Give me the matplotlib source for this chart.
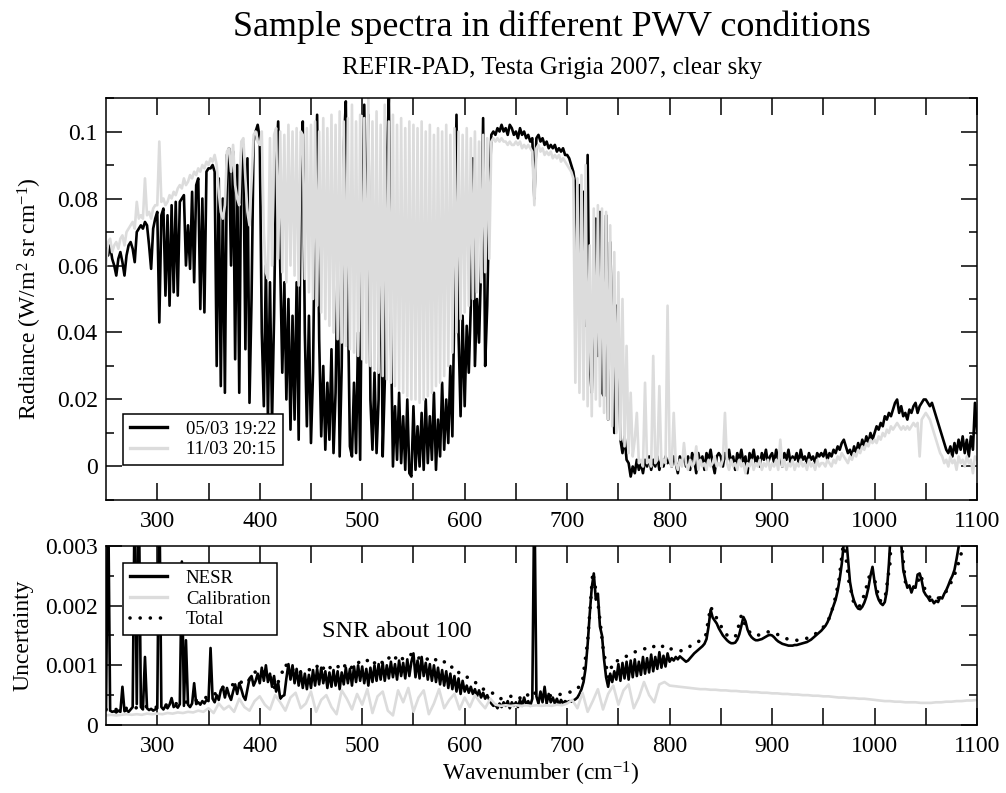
import numpy as np
import matplotlib
matplotlib.use("Agg")
import matplotlib.pyplot as plt
from matplotlib.ticker import MultipleLocator

plt.rcParams['font.family'] = ['Liberation Serif', 'DejaVu Serif']
plt.rcParams['mathtext.fontset'] = 'custom'
plt.rcParams['mathtext.rm'] = 'Liberation Serif'
plt.rcParams['mathtext.it'] = 'Liberation Serif:italic'

# spectra sampled every 2 cm-1, 250 .. 1100 cm-1
# radiance in 1e-3 W/(m2 sr cm-1), one row = 50 cm-1
rad_0503 = [
    65, 63, 66, 62, 60, 57, 62, 64, 61, 57, 63, 66, 67, 65, 61, 70, 71, 72, 71, 73, 72, 66, 59, 71, 74,
    76, 43, 75, 77, 51, 75, 48, 78, 52, 79, 51, 79, 80, 81, 60, 72, 59, 82, 55, 84, 86, 47, 80, 46, 88,
    89, 89, 90, 88, 30, 86, 24, 80, 22, 93, 95, 60, 94, 32, 90, 22, 94, 96, 35, 92, 19, 50, 97, 100, 102,
    98, 40, 18, 60, 14, 55, 13, 45, 90, 103, 60, 28, 55, 20, 50, 11, 45, 14, 55, 8, 85, 103, 40, 12, 45,
    7, 28, 80, 105, 38, 9, 30, 5, 25, 8, 35, 4, 22, 60, 3, 30, 95, 109, 50, 6, 3, 25, 4, 40, 2,
    70, 108, 60, 105, 20, 5, 28, 4, 20, 81, 3, 25, 90, 110, 40, 0, 18, 2, 22, 1, 15, -1, 20, -2, -3,
    18, -1, 12, 0, 16, -1, 20, 1, 15, 2, 22, -1, 14, 3, 25, 5, 20, 7, 30, 9, 50, 105, 40, 15, 45,
    18, 42, 28, 48, 92, 30, 50, 37, 60, 104, 30, 48, 80, 99, 100, 99, 101, 100, 102, 100, 101, 99, 102, 101, 99,
    100, 98, 101, 99, 100, 98, 99, 97, 98, 80, 98, 99, 97, 98, 96, 97, 95, 96, 95, 96, 94, 95, 94, 95, 93,
    93, 92, 90, 88, 84, 60, 84, 45, 82, 42, 93, 30, 22, 50, 74, 33, 76, 22, 21, 75, 14, 67, 40, 10, 48,
    44, 8, 4, 9, 2, 1, -3, 0, -2, 2, -1, 1, -2, 2, 0, 3, -1, 2, 0, 3, -1, 2, 0, 3, 1,
    2, 0, 3, 1, -2, 3, 1, 4, 0, 3, -1, 4, 2, -2, 4, 1, 3, -1, 4, 2, 5, 1, -2, 3, 4,
    3, 0, 4, 2, 5, 1, 3, -1, 4, 2, 5, 1, 3, -2, 4, 2, 5, 1, 3, 0, 4, 2, 5, 1, 3,
    4, 1, 5, 2, 3, 0, 4, 2, 5, 1, 3, 2, 4, 1, 5, 2, 3, 1, 4, 2, 3, 1, 4, 3, 4,
    3, 5, 2, 4, 3, 5, 4, 6, 5, 7, 8, 6, 4, 5, 3, 6, 4, 7, 5, 8, 6, 9, 7, 10, 8,
    10, 12, 11, 13, 12, 15, 14, 16, 15, 17, 19, 20, 16, 18, 15, 16, 14, 17, 16, 18, 19, 16, 18, 19, 20,
    20, 19, 18, 19, 17, 15, 13, 11, 9, 7, 5, 4, 6, 3, 7, 4, 8, 5, 9, 4, 8, 3, 9, 5, 19, 10,
]
rad_1103 = [
    60, 67, 68, 64, 66, 67, 65, 68, 69, 66, 70, 71, 72, 73, 71, 79, 74, 75, 74, 86, 75, 76, 74, 77, 78,
    78, 97, 79, 80, 78, 79, 81, 80, 82, 81, 83, 84, 83, 86, 84, 85, 87, 86, 88, 87, 89, 88, 90, 89, 91,
    90, 92, 91, 93, 90, 82, 76, 74, 78, 94, 95, 88, 96, 84, 80, 78, 97, 98, 86, 76, 72, 85, 99, 100, 97,
    96, 100, 70, 58, 56, 98, 60, 99, 101, 62, 100, 58, 99, 55, 102, 60, 100, 57, 101, 54, 100, 99, 56, 101, 52,
    102, 50, 103, 48, 100, 46, 104, 44, 101, 42, 105, 40, 102, 38, 106, 37, 103, 36, 104, 35, 108, 34, 103, 33, 105,
    32, 104, 31, 110, 30, 103, 29, 106, 28, 102, 27, 108, 26, 103, 25, 105, 24, 102, 23, 104, 22, 101, 21, 103, 20,
    102, 20, 101, 19, 103, 20, 100, 21, 102, 22, 99, 24, 101, 25, 100, 27, 102, 30, 99, 34, 101, 40, 100, 44, 99,
    46, 101, 48, 98, 50, 100, 52, 97, 55, 99, 58, 98, 62, 97, 98, 97, 98, 97, 98, 97, 97, 96, 97, 96, 96,
    97, 96, 97, 95, 96, 95, 96, 95, 94, 78, 95, 96, 94, 95, 93, 94, 93, 94, 92, 93, 92, 93, 91, 92, 91,
    90, 89, 88, 86, 25, 86, 22, 87, 20, 90, 18, 66, 15, 77, 20, 78, 18, 77, 16, 76, 14, 72, 12, 64, 10,
    58, 8, 50, 6, 36, 4, 22, 3, 8, 16, 1, 2, 0, 25, 1, 2, 0, 33, 1, 2, 24, 0, 2, 1, 48,
    2, 0, 16, 1, -1, 2, 0, 7, 1, -1, 2, 0, 1, 6, -1, 2, 0, 1, -1, 2, 0, 1, 3, 0, 1,
    0, 2, 16, 1, -1, 2, 0, 1, -1, 2, 0, 1, -2, 1, 0, 2, -1, 1, 0, 2, -1, 1, 0, 2, -1,
    1, 0, 2, -1, 8, 0, 2, -1, 1, 0, 2, -1, 1, 0, 2, 0, 1, -1, 2, 0, 1, -1, 2, 0, 1,
    1, 0, 2, 1, 0, 2, 1, 3, 2, 4, 3, 2, 1, 3, 2, 4, 3, 5, 4, 6, 5, 7, 6, 8, 7,
    8, 7, 9, 8, 10, 9, 11, 10, 12, 11, 12, 13, 12, 11, 12, 11, 12, 11, 12, 13, 12, 13, 3, 14, 15,
    16, 15, 14, 12, 10, 8, 6, 4, 3, 1, 2, 0, 3, 1, 2, -1, 3, 1, 2, 0, 3, 1, 2, -2, 3, 2,
]

# uncertainties in 1e-4 W/(m2 sr cm-1)
nesr = [
    2.5, 40, 2.4, 2.2, 2.3, 2.1, 2.4, 2.2, 6.4, 2.3, 2.5, 2.2, 2.6, 3.0, 40, 3.5, 40, 3.0, 2.6, 11.4, 2.8, 2.5, 2.7, 2.4, 2.6,
    2.8, 40, 3.0, 2.6, 3.2, 2.8, 3.4, 4.5, 3.0, 3.3, 2.9, 3.5, 27.4, 3.2, 14.2, 3.4, 3.0, 3.6, 7.0, 3.5, 3.8, 3.4, 4.0, 3.6, 4.2,
    4.0, 12.9, 4.4, 3.8, 5.0, 4.2, 5.8, 6.4, 4.6, 6.2, 5.0, 4.2, 5.6, 6.8, 5.2, 7.0, 6.0, 4.8, 4.2, 6.0, 7.8, 8.2, 6.6, 7.4, 8.6,
    7.0, 9.6, 7.4, 10.0, 7.2, 8.6, 6.4, 8.2, 5.6, 7.0, 4.4, 4.8, 5.0, 7.8, 10.2, 7.6, 10.0, 7.0, 9.4, 6.6, 9.0, 6.2, 8.6, 6.0, 8.4,
    6.2, 9.2, 6.6, 9.4, 6.8, 9.6, 7.0, 9.0, 6.2, 8.8, 6.4, 9.2, 6.6, 9.0, 6.0, 8.8, 6.8, 9.6, 7.0, 9.4, 6.6, 9.8, 7.2, 10.0, 7.4,
    9.8, 7.0, 9.4, 6.6, 9.6, 7.2, 10.0, 7.4, 10.2, 7.6, 10.4, 7.4, 10.0, 7.8, 10.6, 8.0, 10.2, 7.6, 10.8, 8.2, 10.4, 7.8, 11.0, 8.2, 10.6,
    12.0, 8.0, 10.8, 7.8, 11.4, 8.2, 10.4, 7.6, 10.2, 7.4, 10.0, 7.2, 9.6, 6.8, 9.2, 6.6, 9.0, 6.2, 8.6, 6.0, 8.2, 5.6, 7.8, 5.2, 7.4,
    5.6, 6.6, 5.4, 6.4, 5.2, 6.0, 4.8, 5.8, 4.6, 5.4, 4.4, 5.0, 4.2, 3.6, 3.2, 3.4, 2.8, 3.6, 3.0, 3.8, 3.2, 4.0, 2.8, 3.8, 3.2,
    3.8, 3.0, 4.2, 3.2, 4.6, 3.4, 4.0, 3.2, 4.4, 40, 4.8, 3.6, 5.6, 3.8, 6.4, 3.6, 5.2, 3.8, 4.6, 3.6, 4.4, 3.4, 4.2, 3.6, 4.0,
    3.8, 4.0, 3.9, 4.1, 4.3, 4.6, 5.2, 6.0, 7.2, 9.5, 13.5, 18.5, 23.0, 25.4, 21.0, 22.0, 16.5, 15.0, 11.0, 8.0, 6.4, 8.6, 7.2, 9.0, 7.6,
    10.2, 7.4, 10.4, 7.8, 10.6, 7.6, 10.8, 8.0, 11.0, 8.2, 10.6, 8.4, 11.4, 8.6, 11.2, 8.8, 11.8, 9.0, 11.4, 9.4, 12.2, 9.6, 11.6, 9.8, 12.0,
    10.6, 11.2, 10.8, 11.4, 11.0, 11.5, 11.2, 10.9, 10.6, 10.8, 11.2, 11.6, 12.0, 12.3, 12.6, 12.9, 13.2, 13.6, 14.4, 16.5, 19.3, 18.0, 17.5, 17.0, 16.2,
    15.6, 15.0, 14.6, 14.2, 13.9, 13.7, 13.7, 13.8, 14.3, 15.2, 16.6, 18.1, 17.4, 16.0, 15.2, 14.7, 14.4, 14.2, 14.2, 14.3, 14.4, 14.6, 14.8, 15.0, 15.1,
    15.0, 14.7, 14.3, 14.0, 13.8, 13.6, 13.5, 13.4, 13.3, 13.3, 13.3, 13.4, 13.4, 13.5, 13.6, 13.7, 13.8, 13.9, 14.1, 14.3, 14.6, 14.9, 15.2, 15.5, 15.8,
    16.2, 16.6, 17.2, 18.0, 19.0, 20.0, 21.0, 22.5, 24.5, 27.0, 30.5, 32.0, 28.0, 24.0, 22.0, 20.8, 20.0, 19.5, 19.4, 19.8, 20.5, 21.5, 23.0, 25.0, 26.5,
    24.0, 22.0, 21.0, 20.4, 20.1, 20.6, 22.5, 27.0, 33.0, 40.0, 45.0, 40.0, 34.0, 30.5, 26.0, 24.4, 23.0, 23.4, 22.2, 23.2, 23.0, 25.2, 25.4, 24.2, 22.4,
    21.8, 21.4, 20.8, 21.0, 20.4, 20.8, 20.6, 21.4, 21.2, 22.0, 22.6, 23.4, 24.3, 25.0, 26.0, 27.8, 29.8, 32.0, 34.0, 36.0, 38.0, 40.0, 42.0, 44.0, 46.0, 48.0,
]

# calibration and total uncertainty, every 5 cm-1, one row = 50 cm-1
calib = [
    1.6, 1.7, 1.6, 1.7, 1.8, 1.7, 1.8, 1.7, 1.9, 1.8,
    1.9, 1.8, 2.0, 1.9, 2.1, 2.0, 2.2, 2.1, 2.4, 2.2,
    2.8, 2.0, 3.6, 2.6, 3.2, 2.2, 4.4, 3.0, 2.4, 4.0,
    4.8, 3.4, 2.6, 5.0, 3.8, 2.4, 4.6, 5.4, 2.8, 3.6,
    5.6, 2.2, 4.2, 5.0, 3.0, 1.8, 5.8, 4.4, 2.6, 5.2,
    3.4, 6.0, 2.0, 4.8, 5.6, 2.4, 1.6, 5.8, 3.8, 6.2,
    2.2, 4.6, 5.8, 1.8, 3.6, 6.0, 2.8, 4.2, 5.2, 2.6,
    4.6, 3.0, 5.0, 3.8, 2.8, 4.4, 3.4, 3.2, 3.3, 3.2,
    3.3, 3.2, 3.3, 3.2, 3.3, 3.2, 3.3, 3.2, 3.4, 3.3,
    3.6, 4.2, 2.8, 5.4, 2.2, 4.0, 6.0, 2.6, 5.2, 6.6,
    3.4, 5.8, 6.8, 2.8, 4.6, 7.2, 5.0, 3.8, 6.8, 7.2,
    6.6, 6.5, 6.4, 6.3, 6.2, 6.1, 6.0, 6.0, 5.9, 5.9,
    5.8, 5.8, 5.7, 5.7, 5.6, 5.6, 5.5, 5.5, 5.4, 5.4,
    5.3, 5.3, 5.2, 5.2, 5.1, 5.1, 5.0, 5.0, 4.9, 4.9,
    4.8, 4.8, 4.7, 4.6, 4.6, 4.5, 4.5, 4.4, 4.4, 4.3,
    4.2, 4.1, 4.0, 4.0, 3.9, 3.9, 3.8, 3.8, 3.8, 3.7,
    3.7, 3.7, 3.8, 3.8, 3.9, 3.9, 4.0, 4.0, 4.1, 4.1,
    4.2,
]
total = [
    2.6, 2.5, 2.6, 2.7, 2.8, 2.7, 2.9, 3.0, 3.1, 2.9,
    3.0, 3.2, 3.4, 3.5, 3.6, 3.7, 3.9, 4.0, 4.2, 4.4,
    4.8, 5.0, 5.8, 6.4, 6.6, 6.8, 7.4, 6.8, 7.6, 8.8,
    9.4, 8.6, 8.2, 6.0, 8.0, 10.2, 9.0, 9.6, 8.8, 9.4,
    9.2, 10.0, 9.0, 10.2, 9.4, 10.0, 9.2, 10.4, 9.6, 10.6,
    10.2, 10.8, 10.0, 11.0, 10.4, 11.4, 10.6, 11.8, 11.0, 11.6,
    12.0, 11.2, 11.6, 10.8, 11.2, 10.4, 10.6, 9.6, 9.8, 8.6,
    8.4, 7.6, 7.2, 6.4, 5.8, 5.6, 5.0, 4.4, 4.6, 4.8,
    5.0, 4.4, 5.2, 4.6, 5.6, 4.6, 5.2, 4.8, 5.0, 5.2,
    5.4, 5.6, 6.0, 7.4, 14.0, 25.6, 20.6, 13.0, 8.0, 10.6,
    10.8, 11.4, 11.6, 12.2, 12.4, 12.8, 12.6, 13.2, 12.8, 13.4,
    12.8, 12.6, 12.4, 12.6, 13.2, 13.6, 14.2, 14.8, 19.8, 18.2,
    16.6, 15.2, 14.6, 15.0, 18.4, 16.2, 15.2, 15.0, 15.2, 15.6,
    15.6, 15.2, 14.8, 14.4, 14.2, 14.2, 14.3, 14.6, 15.0, 15.6,
    16.4, 17.6, 20.0, 24.0, 31.0, 24.0, 20.2, 19.8, 21.8, 25.0,
    24.4, 20.8, 21.0, 27.0, 45.0, 33.0, 24.0, 23.2, 23.0, 25.2,
    22.2, 21.2, 21.0, 21.6, 22.4, 24.0, 26.0, 29.0, 34.0, 40.0,
    46.0,
]

wn_fine = np.arange(250, 1101, 2)
wn_coarse = np.arange(250, 1101, 5)

gray = '#dcdcdc'
fig = plt.figure(figsize=(10.06, 7.93), dpi=100)
ax1 = fig.add_axes([0.1054, 0.3695, 0.8658, 0.5069])
ax2 = fig.add_axes([0.1054, 0.0858, 0.8658, 0.2257])

ax1.plot(wn_fine, np.array(rad_0503) * 1e-3, color='black', lw=1.9, label='05/03 19:22')
ax1.plot(wn_fine, np.array(rad_1103) * 1e-3, color=gray, lw=1.9, label='11/03 20:15')

ax2.plot(wn_fine, np.array(nesr) * 1e-4, color='black', lw=1.9, label='NESR')
ax2.plot(wn_coarse, np.array(calib) * 1e-4, color=gray, lw=1.9, label='Calibration')
ax2.plot(wn_coarse, np.array(total) * 1e-4, color='black', lw=2.6,
         linestyle=(0, (0.01, 2.8)), dash_capstyle='round', label='Total')

xticks = np.arange(300, 1101, 50)
xlabels = [str(t) if t % 100 == 0 else '' for t in xticks]
for ax in (ax1, ax2):
    ax.set_xlim(250, 1100)
    ax.set_xticks(xticks)
    ax.set_xticklabels(xlabels)
    ax.tick_params(axis='x', which='both', direction='in', top=True, length=12,
                   width=1.1, labelsize=17, pad=8)
    ax.tick_params(axis='y', which='major', direction='in', right=True, length=11.5,
                   width=1.1, labelsize=17, pad=6)
    ax.tick_params(axis='y', which='minor', direction='in', right=True, length=6,
                   width=1.1)
    for s in ax.spines.values():
        s.set_linewidth(1.1)

ax1.set_ylim(-0.01, 0.11)
ax1.set_yticks([0, 0.02, 0.04, 0.06, 0.08, 0.1])
ax1.set_yticklabels(['0', '0.02', '0.04', '0.06', '0.08', '0.1'])
ax1.yaxis.set_minor_locator(MultipleLocator(0.01))

ax2.set_ylim(0, 0.003)
ax2.set_yticks([0, 0.001, 0.002, 0.003])
ax2.set_yticklabels(['0', '0.001', '0.002', '0.003'])
ax2.yaxis.set_minor_locator(MultipleLocator(0.0005))

ax2.text(534, 0.00156, 'SNR about 100', ha='center', va='center', fontsize=17.5)

leg_kw = dict(fontsize=13.5, frameon=True, fancybox=False, framealpha=1,
              edgecolor='black', borderaxespad=0, handlelength=2.0,
              handletextpad=1.0, labelspacing=0.2, borderpad=0.35)
l1 = ax1.legend(loc='lower left', bbox_to_anchor=(0.0195, 0.087), **leg_kw)
l2 = ax2.legend(loc='upper left', bbox_to_anchor=(0.0195, 0.905), **leg_kw)
for leg in (l1, l2):
    leg.get_frame().set_linewidth(1.1)
    for h in leg.get_lines():
        h.set_linewidth(2.4)
l2.get_lines()[2].set_linewidth(2.6)

fig.text(0.5487, 1 - 27 / 793, 'Sample spectra in different PWV conditions',
         ha='center', va='center', fontsize=26)
fig.text(0.5487, 1 - 68 / 793, 'REFIR-PAD, Testa Grigia 2007, clear sky',
         ha='center', va='center', fontsize=18)
fig.text(30 / 1006, 1 - 299 / 793, 'Radiance (W/m$^2$ sr cm$^{-1}$)',
         rotation=90, ha='center', va='center', fontsize=17)
fig.text(23 / 1006, 1 - 635 / 793, 'Uncertainty',
         rotation=90, ha='center', va='center', fontsize=17)
fig.text(541 / 1006, 1 - 774 / 793, 'Wavenumber (cm$^{-1}$)',
         ha='center', va='center', fontsize=17)

fig.savefig('out.png', dpi=100)
